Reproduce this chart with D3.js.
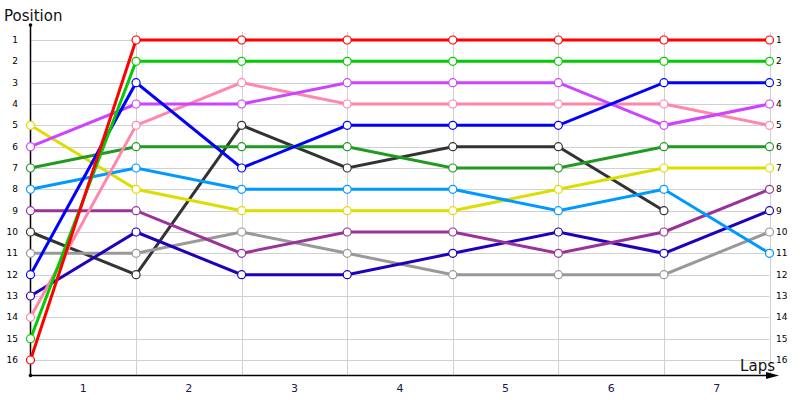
<!DOCTYPE html>
<html>
<head>
<meta charset="utf-8">
<script src="https://cdn.jsdelivr.net/npm/d3@7"></script>
<style>
  body { margin: 0; background: #fff; }
  text { font-family: "DejaVu Sans", Verdana, sans-serif; }
</style>
</head>
<body>
<svg></svg>
<script>
var width = 800,
    height = 400;

// laps 0..7, positions per driver
var laps = [0, 1, 2, 3, 4, 5, 6, 7];
var lapLabels = ["1", "2", "3", "4", "5", "6", "7"];
var positions = d3.range(1, 17);

var red       = [16, 1, 1, 1, 1, 1, 1, 1];
var lime      = [15, 2, 2, 2, 2, 2, 2, 2];
var blue      = [12, 3, 7, 5, 5, 5, 3, 3];
var violet    = [6, 4, 4, 3, 3, 3, 5, 4];
var pink      = [14, 5, 3, 4, 4, 4, 4, 5];
var darkGreen = [7, 6, 6, 6, 7, 7, 6, 6];
var skyBlue   = [8, 7, 8, 8, 8, 9, 8, 11];
var yellow    = [5, 8, 9, 9, 9, 8, 7, 7];
var plum      = [9, 9, 11, 10, 10, 11, 10, 8];
var navy      = [13, 10, 12, 12, 11, 10, 11, 9];
var grey      = [11, 11, 10, 11, 12, 12, 12, 10];
var black     = [10, 12, 5, 7, 6, 6, 9];

var series = [
  {values: black,     color: "#333333"},
  {values: grey,      color: "#999999"},
  {values: navy,      color: "#2200bb"},
  {values: plum,      color: "#993399"},
  {values: yellow,    color: "#dddd00"},
  {values: skyBlue,   color: "#0099ff"},
  {values: darkGreen, color: "#229922"},
  {values: pink,      color: "#ff88aa"},
  {values: violet,    color: "#cc44ff"},
  {values: blue,      color: "#0000ff"},
  {values: lime,      color: "#00cc00"},
  {values: red,       color: "#ff0000"}
];

var svg = d3.select("svg")
    .attr("width", width)
    .attr("height", height);

var x = d3.scaleLinear().domain([0, 7]).range([30.5, 769.5]);
var y = d3.scaleLinear().domain([1, 16]).range([40, 360]);
var axisY = 375.5;

//grid
svg.append("g").selectAll("line")
    .data(positions)
  .enter().append("line")
    .attr("x1", x(0)).attr("x2", x(7))
    .attr("y1", function(d){ return Math.round(y(d)) + 0.5; })
    .attr("y2", function(d){ return Math.round(y(d)) + 0.5; })
    .attr("stroke", "#d0d0d0");

svg.append("g").selectAll("line")
    .data(laps.slice(1))
  .enter().append("line")
    .attr("x1", function(d){ return Math.round(x(d)) + 0.5; })
    .attr("x2", function(d){ return Math.round(x(d)) + 0.5; })
    .attr("y1", 32).attr("y2", axisY)
    .attr("stroke", "#d0d0d0");

//axes
svg.append("line")
    .attr("x1", x(0)).attr("x2", x(0))
    .attr("y1", 25).attr("y2", axisY)
    .attr("stroke", "#000").attr("stroke-width", 1.5);
svg.append("circle").attr("cx", x(0)).attr("cy", 25).attr("r", 1.8).attr("fill", "#000");
svg.append("circle").attr("cx", x(0)).attr("cy", axisY).attr("r", 1.8).attr("fill", "#000");
svg.append("line")
    .attr("x1", x(0)).attr("x2", 772)
    .attr("y1", axisY).attr("y2", axisY)
    .attr("stroke", "#000").attr("stroke-width", 1.5);
svg.append("path")
    .attr("d", "M766," + (axisY - 3.5) + " L779," + axisY + " L766," + (axisY + 3.5) + " Z")
    .attr("fill", "#000");

//tick labels
svg.append("g").selectAll("text")
    .data(positions)
  .enter().append("text")
    .attr("x", 18).attr("y", function(d){ return y(d); })
    .attr("dy", "0.35em")
    .attr("text-anchor", "end")
    .style("font-size", "9px")
    .text(function(d){ return d; });

svg.append("g").selectAll("text")
    .data(positions)
  .enter().append("text")
    .attr("x", 776).attr("y", function(d){ return y(d); })
    .attr("dy", "0.35em")
    .style("font-size", "9px")
    .text(function(d){ return d; });

svg.append("g").selectAll("text")
    .data(lapLabels)
  .enter().append("text")
    .attr("x", function(d, i){ return (x(i) + x(i + 1)) / 2; })
    .attr("y", 392)
    .attr("text-anchor", "middle")
    .attr("fill", "#1a1a50")
    .style("font-size", "11px")
    .text(function(d){ return d; });

svg.append("text")
    .attr("x", 4).attr("y", 21)
    .style("font-size", "15px")
    .attr("fill", "#111")
    .text("Position");

svg.append("text")
    .attr("x", 775).attr("y", 371)
    .attr("text-anchor", "end")
    .style("font-size", "15px")
    .attr("fill", "#111")
    .text("Laps");

//lines
var line = d3.line()
    .x(function(d, i){ return x(i); })
    .y(function(d){ return y(d); });

svg.append("g").selectAll("path")
    .data(series)
  .enter().append("path")
    .attr("d", function(d){ return line(d.values); })
    .attr("fill", "none")
    .attr("stroke", function(d){ return d.color; })
    .attr("stroke-width", 3);

//markers
series.forEach(function(s){
  svg.append("g").selectAll("circle")
      .data(s.values)
    .enter().append("circle")
      .attr("cx", function(d, i){ return x(i); })
      .attr("cy", function(d){ return y(d); })
      .attr("r", 4)
      .attr("fill", "#fff")
      .attr("stroke", s.color)
      .attr("stroke-width", 1.2);
});
</script>
</body>
</html>
